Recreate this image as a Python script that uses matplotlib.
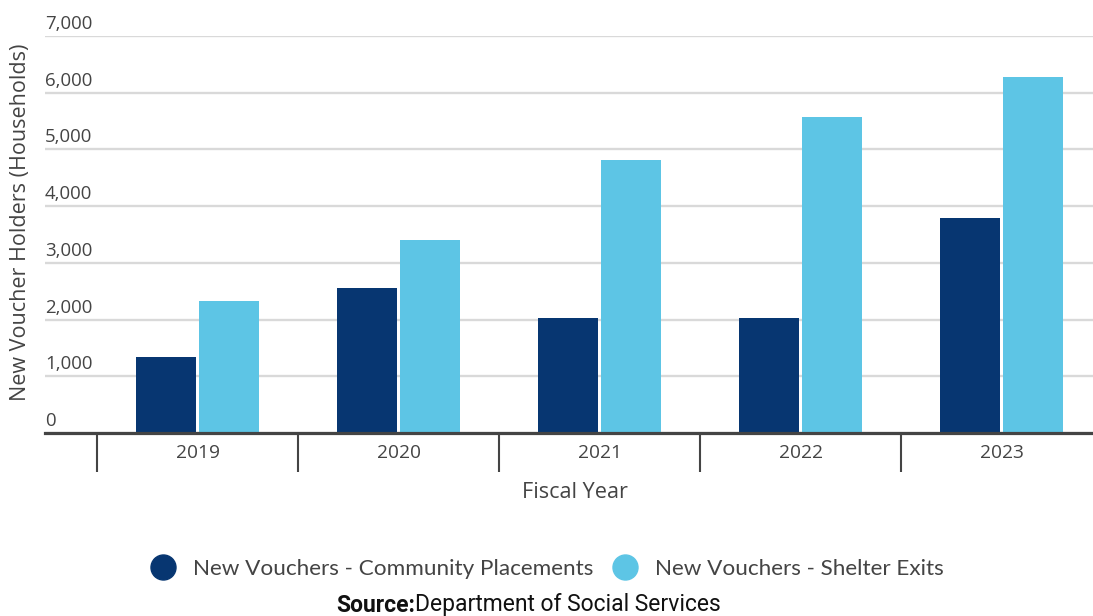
import matplotlib
matplotlib.use("Agg")
import matplotlib.pyplot as plt
from matplotlib.lines import Line2D
import numpy as np

years = ["2019", "2020", "2021", "2022", "2023"]
community = [1345, 2550, 2020, 2020, 3785]
shelter = [2335, 3400, 4810, 5580, 6285]
series_names = ["New Vouchers - Community Placements", "New Vouchers - Shelter Exits"]
yticks = [0, 1000, 2000, 3000, 4000, 5000, 6000, 7000]
ylabel = "New Voucher Holders (Households)"
xlabel = "Fiscal Year"

navy = "#073671"
light = "#5DC5E5"
txt = "#444444"
W, H = 1093, 616

fig = plt.figure(figsize=(W / 100, H / 100), dpi=100)
ax = fig.add_axes([45 / W, (H - 433) / H, (W - 45) / W, (433 - 36) / H])

x = np.arange(len(years))
bw = 0.30
ax.bar(x - 0.158, community, bw, color=navy, zorder=3)
ax.bar(x + 0.158, shelter, bw, color=light, zorder=3)

ax.set_xlim(-0.759, 4.455)
ax.set_ylim(0, 7000)
for s in ["top", "right", "left"]:
    ax.spines[s].set_visible(False)
ax.spines["bottom"].set_color(txt)
ax.spines["bottom"].set_linewidth(2.3)
ax.spines["bottom"].set_zorder(4)

ax.set_yticks(yticks)
ax.tick_params(axis="y", length=0, labelleft=False)
ax.yaxis.grid(True, color="#d9d9d9", linewidth=1.7, zorder=0)

fs = "Open Sans"
for v in yticks:
    ax.annotate(f"{v:,}", xy=(0, v), xycoords=ax.get_yaxis_transform(),
                xytext=(0, 5), textcoords="offset points",
                ha="left", va="baseline", fontsize=13.4, color=txt, family=fs)

ax.set_xticks(x)
ax.set_xticklabels(years, fontsize=13.8, color=txt, family=fs)
ax.tick_params(axis="x", which="major", length=0, pad=8)
ax.set_xticks(np.arange(-0.5, 4.0, 1.0), minor=True)
ax.tick_params(axis="x", which="minor", length=28, width=1.5, color=txt, direction="out")

fig.text(21 / W, (H - 222) / H, ylabel, rotation=90, ha="center", va="center",
         fontsize=15.5, color=txt, family=fs)
fig.text(575 / W, (H - 493) / H, xlabel, ha="center", va="center",
         fontsize=15.6, color=txt, family=fs)

handles = [Line2D([], [], marker="o", linestyle="none", markersize=18,
                  markerfacecolor=c, markeredgecolor=c) for c in (navy, light)]
leg = fig.legend(handles, series_names, loc="center", bbox_to_anchor=(542 / W, (H - 569) / H),
                 ncol=2, frameon=False, handletextpad=0.35, columnspacing=0.4,
                 prop={"family": "Lato", "size": 16.2})
for t in leg.get_texts():
    t.set_color(txt)

fig.text(415 / W, (H - 605) / H, "Source:", ha="right", va="center",
         fontsize=16.5, fontweight="bold", color="#111111", family="Roboto")
fig.text(415 / W, (H - 605) / H, "Department of Social Services", ha="left", va="center",
         fontsize=16.5, color="#111111", family="Roboto")

fig.savefig("out.png", dpi=100)
